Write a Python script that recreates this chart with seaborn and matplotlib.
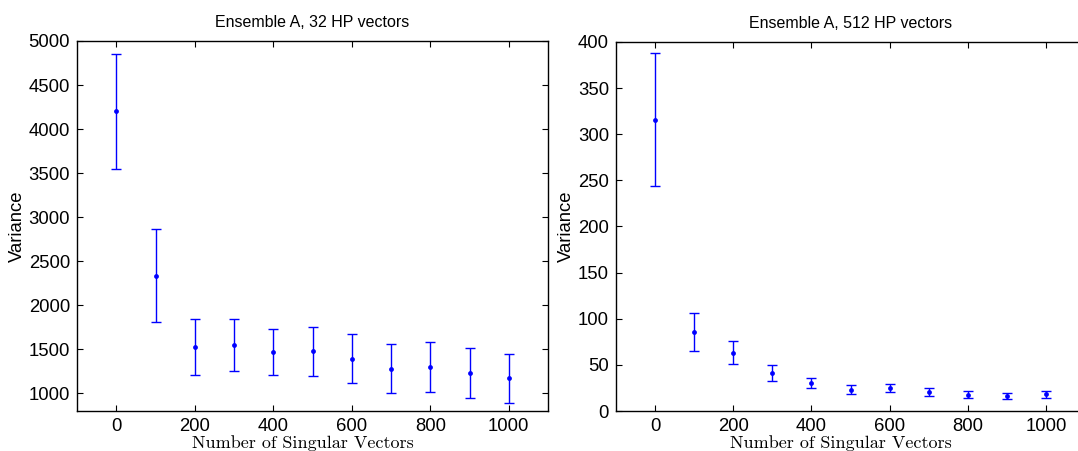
import matplotlib
matplotlib.use("Agg")
import matplotlib.pyplot as plt
import seaborn as sns
import numpy as np
import pandas as pd

# ---- data ----
n_vectors = [0, 100, 200, 300, 400, 500, 600, 700, 800, 900, 1000]

var_32 = [4200, 2338, 1530, 1549, 1473, 1477, 1394, 1280, 1299, 1235, 1171]
err_32 = [650, 530, 320, 292, 260, 280, 275, 276, 285, 285, 276]

var_512 = [315.8, 85.7, 63.3, 41.2, 30.0, 23.1, 24.6, 20.3, 17.7, 16.3, 18.1]
err_512 = [72.3, 20.3, 12.1, 8.5, 5.4, 4.9, 4.3, 4.3, 3.6, 3.5, 3.8]

titles = ["Ensemble A, 32 HP vectors", "Ensemble A, 512 HP vectors"]
xticks = [0, 200, 400, 600, 800, 1000]
yticks_32 = [1000, 1500, 2000, 2500, 3000, 3500, 4000, 4500, 5000]
yticks_512 = [0, 50, 100, 150, 200, 250, 300, 350, 400]

sns.set_style("ticks")
plt.rcParams['font.family'] = ['Liberation Sans', 'DejaVu Sans']
plt.rcParams['text.color'] = 'black'
plt.rcParams['axes.labelcolor'] = 'black'

fig = plt.figure(figsize=(10.78, 4.51), dpi=100)
ax1 = fig.add_axes([77/1078, 1 - 411/451, 471/1078, 370/451])
ax2 = fig.add_axes([616/1078, 1 - 411/451, 469/1078, 369/451])

blue = (0, 0, 1)

def draw(ax, y, e, title, yticks, ylim):
    df = pd.DataFrame({"n": n_vectors, "v": y})
    ax.errorbar(n_vectors, y, yerr=e, fmt='none', ecolor=blue,
                elinewidth=1.0, capsize=3.5, capthick=1.0, zorder=2)
    sns.scatterplot(data=df, x="n", y="v", ax=ax, color=blue, s=12,
                    edgecolor=blue, linewidth=0, zorder=3, legend=False)
    ax.set_xlim(-100, 1100)
    ax.set_ylim(*ylim)
    ax.set_xticks(xticks)
    ax.set_yticks(yticks)
    ax.tick_params(direction='in', top=True, right=True, length=4,
                   width=0.8, labelsize=13.3, colors='black', pad=5)
    for s in ax.spines.values():
        s.set_visible(True)
        s.set_linewidth(1.0)
        s.set_color('black')
    ax.set_title(title, fontsize=11.5, pad=10, color='black')
    ax.set_ylabel("Variance", fontsize=13.3, labelpad=2, color='black')
    ax.set_xlabel("Number of Singular Vectors", fontsize=13,
                  family='cmr10', labelpad=0, color='black')
    ax.xaxis.label.set_x(0.48)

draw(ax1, var_32, err_32, titles[0], yticks_32, (800, 5000))
draw(ax2, var_512, err_512, titles[1], yticks_512, (0, 400))

fig.savefig("out.png", dpi=100)
